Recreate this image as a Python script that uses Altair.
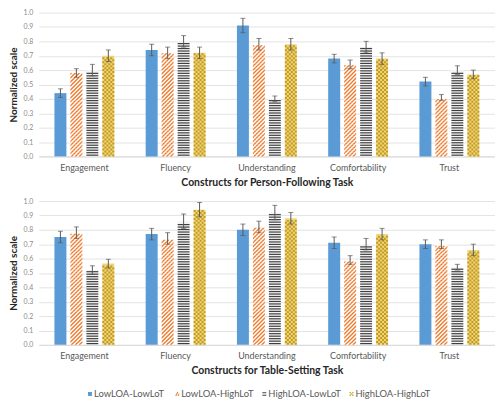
import altair as alt
import pandas as pd

categories = ["Engagement", "Fluency", "Understanding", "Comfortability", "Trust"]
series = ["LowLOA-LowLoT", "LowLOA-HighLoT", "HighLOA-LowLoT", "HighLOA-HighLoT"]

# Person-Following task (top panel)
pf_lowloa_lowlot = [0.44, 0.74, 0.91, 0.68, 0.52]
pf_lowloa_highlot = [0.58, 0.72, 0.78, 0.64, 0.41]
pf_highloa_lowlot = [0.60, 0.80, 0.40, 0.76, 0.60]
pf_highloa_highlot = [0.70, 0.72, 0.78, 0.68, 0.57]
pf_err_lowloa_lowlot = [0.03, 0.04, 0.05, 0.03, 0.03]
pf_err_lowloa_highlot = [0.03, 0.04, 0.04, 0.03, 0.02]
pf_err_highloa_lowlot = [0.04, 0.04, 0.02, 0.04, 0.03]
pf_err_highloa_highlot = [0.04, 0.04, 0.04, 0.04, 0.03]

# Table-Setting task (bottom panel)
ts_lowloa_lowlot = [0.75, 0.77, 0.80, 0.71, 0.70]
ts_lowloa_highlot = [0.78, 0.74, 0.82, 0.59, 0.70]
ts_highloa_lowlot = [0.52, 0.86, 0.92, 0.70, 0.54]
ts_highloa_highlot = [0.565, 0.94, 0.88, 0.77, 0.66]
ts_err_lowloa_lowlot = [0.04, 0.04, 0.04, 0.04, 0.03]
ts_err_lowloa_highlot = [0.04, 0.04, 0.04, 0.03, 0.03]
ts_err_highloa_lowlot = [0.03, 0.05, 0.05, 0.04, 0.02]
ts_err_highloa_highlot = [0.03, 0.05, 0.04, 0.04, 0.04]

FONT = "Lato"
W, H = 460, 145
HALF = 6.0  # half width of a bar in px, used for the texture symbols

bg_colors = ["#5B9BD5", "#FFFFFF", "#F4F4F4", "#F0D67A"]
legend_colors = ["#5B9BD5", "#ED7D31", "#404040", "#C9A227"]


def build(vals, errs):
    rows = []
    for s, v, e in zip(series, vals, errs):
        for c, vv, ee in zip(categories, v, e):
            rows.append({"category": c, "series": s, "value": vv,
                         "lo": vv - ee, "hi": vv + ee})
    return pd.DataFrame(rows)


pf = build([pf_lowloa_lowlot, pf_lowloa_highlot, pf_highloa_lowlot, pf_highloa_highlot],
           [pf_err_lowloa_lowlot, pf_err_lowloa_highlot, pf_err_highloa_lowlot, pf_err_highloa_highlot])
ts = build([ts_lowloa_lowlot, ts_lowloa_highlot, ts_highloa_lowlot, ts_highloa_highlot],
           [ts_err_lowloa_lowlot, ts_err_lowloa_highlot, ts_err_highloa_lowlot, ts_err_highloa_highlot])


# ---------- texture symbols (SVG paths, unit box -1..1 = +-HALF px) ----------
def clip_poly(pts, xmin, xmax):
    def clip(p_list, inside, inter):
        out = []
        n = len(p_list)
        for i in range(n):
            cur, prev = p_list[i], p_list[i - 1]
            if inside(cur):
                if not inside(prev):
                    out.append(inter(prev, cur))
                out.append(cur)
            elif inside(prev):
                out.append(inter(prev, cur))
        return out

    def ix(p, q, x):
        t = (x - p[0]) / (q[0] - p[0])
        return (x, p[1] + t * (q[1] - p[1]))

    pts = clip(pts, lambda p: p[0] >= xmin, lambda p, q: ix(p, q, xmin))
    if pts:
        pts = clip(pts, lambda p: p[0] <= xmax, lambda p, q: ix(p, q, xmax))
    return pts


def to_path(polys):
    parts = []
    for poly in polys:
        if len(poly) < 3:
            continue
        s = "M" + " L".join(f"{x / HALF:.3f},{y / HALF:.3f}" for x, y in poly) + "Z"
        parts.append(s)
    return " ".join(parts)


def diag_row(parity):
    polys = []
    for k in range(8):
        a = -14 + 4 * k + 2 * parity
        p = clip_poly([(a, 1), (a + 2, 1), (a + 4, -1), (a + 2, -1)], -HALF, HALF)
        polys.append(p)
    return to_path(polys)


def checker_row(parity):
    polys = []
    for k in range(5):
        x0 = -HALF - 2 + 4 * k + 2 * parity
        p = clip_poly([(x0, -1), (x0 + 2, -1), (x0 + 2, 1), (x0, 1)], -HALF, HALF)
        polys.append(p)
    return to_path(polys)


hline_row = to_path([[(-HALF, -0.6), (HALF, -0.6), (HALF, 0.6), (-HALF, 0.6)]])

textures = {
    "LowLOA-HighLoT": {"step": 2.0, "color": "#ED7D31", "paths": [diag_row(0), diag_row(1)]},
    "HighLOA-LowLoT": {"step": 2.5, "color": "#3F3F3F", "paths": [hline_row, hline_row]},
    "HighLOA-HighLoT": {"step": 2.0, "color": "#C39A22", "paths": [checker_row(0), checker_row(1)]},
}


def texture_rows(df):
    rows = []
    for _, r in df.iterrows():
        if r["series"] not in textures:
            continue
        step = textures[r["series"]]["step"]
        n = int(r["value"] * H / step)
        for i in range(n):
            rows.append({"category": r["category"], "series": r["series"],
                         "ypos": (i + 0.5) * step / H,
                         "key": f"{r['series']}|{i % 2}"})
    return pd.DataFrame(rows)


legend_shapes = [
    "square",
    "M-1,1 L-0.4,1 L0.6,-1 L0,-1 Z M0.2,1 L0.8,1 L1,0.6 L1,-0.6 Z",
    "M-1,-0.9 H1 V-0.4 H-1 Z M-1,0.4 H1 V0.9 H-1 Z",
    "M-1,-1 H-0.33 V-0.33 H-1 Z M0.33,-1 H1 V-0.33 H0.33 Z M-0.33,-0.33 H0.33 V0.33 H-0.33 Z "
    "M-1,0.33 H-0.33 V1 H-1 Z M0.33,0.33 H1 V1 H0.33 Z",
]

x_scale = alt.Scale(domain=categories, paddingInner=0.3, paddingOuter=0.15)
xo_scale = alt.Scale(domain=series, paddingInner=0.25, paddingOuter=0.125)
y_scale = alt.Scale(domain=[0, 1])


def enc_x(title):
    return alt.X("category:N", sort=categories, scale=x_scale,
                 axis=alt.Axis(title=title, labelAngle=0, labelFontSize=9, labelColor="#595959",
                               labelPadding=7, domainColor="#D9D9D9", ticks=False,
                               titleFontSize=10.5, titleFontWeight="bold", titleColor="#262626",
                               titlePadding=5))


def enc_y(field):
    return alt.Y(field, scale=y_scale,
                 axis=alt.Axis(title="Normalized scale", values=[i / 10 for i in range(11)],
                               format=".1f", labelFontSize=7, labelColor="#8C8C8C",
                               labelPadding=6, domain=False, ticks=False,
                               gridColor="#E3E3E3", titleFontSize=10, titleFontWeight="bold",
                               titleColor="#262626", titlePadding=5))


xo = alt.XOffset("series:N", sort=series, scale=xo_scale)


def panel(df, xtitle):
    tex = texture_rows(df)
    base = alt.Chart(df)
    bars = base.mark_bar().encode(
        x=enc_x(xtitle), xOffset=xo, y=enc_y("value:Q"),
        fill=alt.Fill("series:N", scale=alt.Scale(domain=series, range=bg_colors), legend=None),
    )
    layers = [bars]
    for s, t in textures.items():
        for parity in (0, 1):
            layers.append(
                alt.Chart(tex).transform_filter(alt.datum.key == f"{s}|{parity}")
                .mark_point(shape=t["paths"][parity], filled=True, fill=t["color"],
                            size=(2 * HALF) ** 2, opacity=1, strokeWidth=0)
                .encode(x=enc_x(xtitle), xOffset=xo, y=enc_y("ypos:Q"))
            )
    rule = base.mark_rule(color="#595959", strokeWidth=1).encode(
        x=enc_x(xtitle), xOffset=xo, y=enc_y("lo:Q"), y2="hi:Q")
    cap_lo = base.mark_tick(color="#595959", thickness=1, size=5).encode(
        x=enc_x(xtitle), xOffset=xo, y=enc_y("lo:Q"))
    cap_hi = base.mark_tick(color="#595959", thickness=1, size=5).encode(
        x=enc_x(xtitle), xOffset=xo, y=enc_y("hi:Q"))
    layers += [rule, cap_lo, cap_hi]
    return alt.layer(*layers).properties(width=W, height=H)


top = panel(pf, "Constructs for Person-Following Task")
bottom = panel(ts, "Constructs for Table-Setting Task")

# legend row, drawn from the series list
legend_df = pd.DataFrame({"series": series})
leg_x = alt.X("series:N", sort=series, axis=None,
              scale=alt.Scale(type="point", domain=series, padding=0.5875))
leg_sym = alt.Chart(legend_df).mark_point(filled=True, size=16, opacity=1, strokeWidth=0).encode(
    x=leg_x,
    color=alt.Color("series:N", scale=alt.Scale(domain=series, range=legend_colors), legend=None),
    shape=alt.Shape("series:N", scale=alt.Scale(domain=series, range=legend_shapes), legend=None),
)
leg_txt = alt.Chart(legend_df).mark_text(align="left", baseline="middle", dx=4, fontSize=9.5,
                                         color="#595959").encode(x=leg_x, text="series:N")
legend_row = alt.layer(leg_sym, leg_txt).properties(width=367, height=17)

chart = alt.vconcat(top, bottom, legend_row, spacing=9).properties(
    padding={"left": 0, "top": -1, "right": 0, "bottom": 0}
).configure(font=FONT).configure_view(stroke=None)

chart.save("out.html", embed_options={"renderer": "svg", "actions": False})
